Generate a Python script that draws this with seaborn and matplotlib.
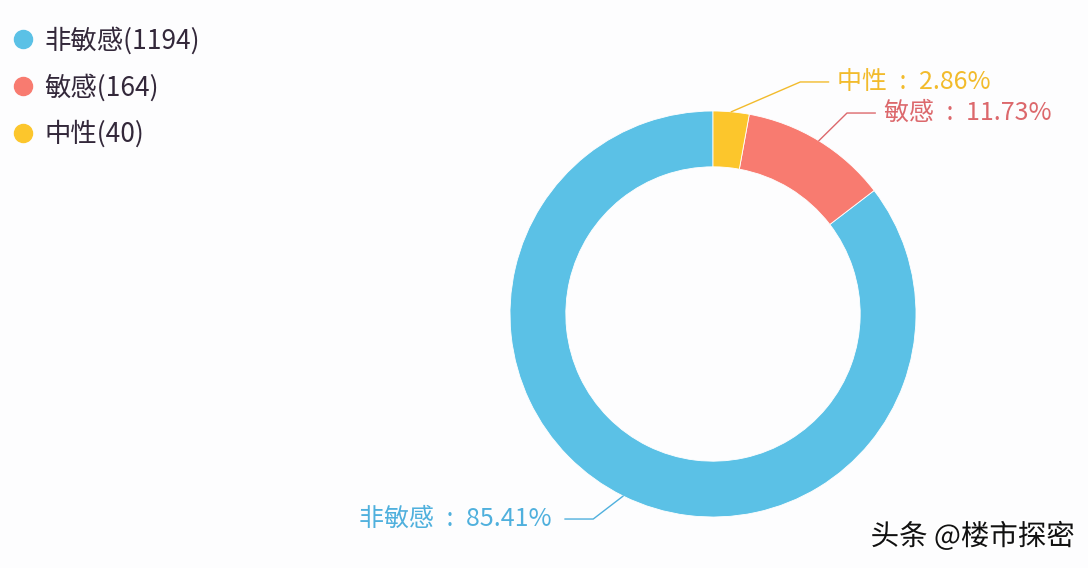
import numpy as np
import matplotlib
matplotlib.use("Agg")
import matplotlib.pyplot as plt
import matplotlib.patheffects as pe
from matplotlib.lines import Line2D
import seaborn as sns

# ---- data ----
categories = ["非敏感", "敏感", "中性"]
counts = [1194, 164, 40]
percent_labels = ["85.41%", "11.73%", "2.86%"]
colors = ["#5bc1e6", "#f87b70", "#fcc62c"]
label_colors = ["#4fb0dd", "#dc686c", "#f2bb2c"]

sns.set_theme(style="white")
plt.rcParams["font.family"] = ["Noto Sans CJK SC", "DejaVu Sans"]

W, H = 1088, 568
fig = plt.figure(figsize=(W / 100, H / 100), dpi=100)
fig.patch.set_facecolor("#fdfdfe")

cx, cy, R = 713, 314, 203
ax = fig.add_axes([(cx - R) / W, (H - cy - R) / H, 2 * R / W, 2 * R / H])
ax.set_facecolor("none")

wedges, _ = ax.pie(counts, colors=colors, startangle=90, counterclock=True,
                   radius=1.0, wedgeprops=dict(width=0.275, edgecolor="white", linewidth=0.6))
ax.set_xlim(-1, 1)
ax.set_ylim(-1, 1)
ax.set_aspect("equal")
ax.axis("off")

# label layout: (elbow x, elbow y, horizontal dir) in data units of the pie axes
layout = {
    "非敏感": (-0.59, -1.01, -1),
    "敏感": (0.66, 0.99, 1),
    "中性": (0.43, 1.143, 1),
}
sep = "\u2002:\u2002"
for w, cat, pct, lc in zip(wedges, categories, percent_labels, label_colors):
    mid = np.deg2rad((w.theta1 + w.theta2) / 2)
    sx, sy = np.cos(mid), np.sin(mid)
    ex, ey, d = layout[cat]
    hx = ex + d * 0.14
    ax.plot([sx, ex, hx], [sy, ey, ey], color=lc, lw=1.0, clip_on=False)
    gap = 0.04 if d > 0 else 0.065
    ax.text(hx + d * gap, ey, f"{cat}{sep}{pct}", color=lc, fontsize=18,
            ha="left" if d > 0 else "right", va="center", clip_on=False)

# legend
handles = [Line2D([0], [0], marker="o", linestyle="none", markersize=13,
                  markerfacecolor=c, markeredgecolor=c) for c in colors]
legend_labels = [f"{c}({n})" for c, n in zip(categories, counts)]
leg = fig.legend(handles, legend_labels, loc="upper left",
                 bbox_to_anchor=(10 / W, 1 - 27 / H), frameon=False,
                 fontsize=19, labelspacing=0.72, handletextpad=0.3,
                 handlelength=1.0, borderaxespad=0, borderpad=0)
for t in leg.get_texts():
    t.set_color("#33283a")

# watermark
fig.text(1075 / W, 1 - 537 / H, "头条 @楼市探密", ha="right", va="center",
         fontsize=20.5, color="#111111",
         path_effects=[pe.withStroke(linewidth=2.5, foreground="white")])

fig.savefig("out.png", dpi=100, facecolor=fig.get_facecolor())
